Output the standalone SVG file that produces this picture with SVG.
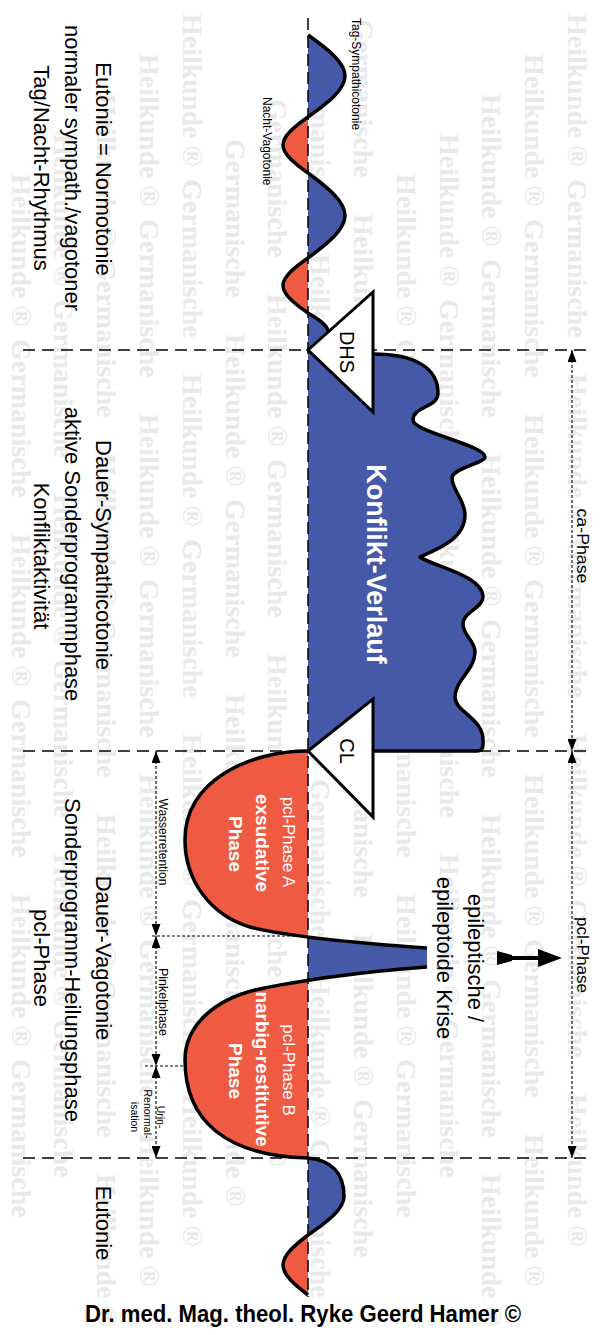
<svg xmlns="http://www.w3.org/2000/svg" width="612" height="1335" viewBox="0 0 612 1335">
<style>
.wm{font-family:"Liberation Serif",serif;font-weight:bold;font-size:28px;fill:#e9e9e9}
.t22{font-family:"Liberation Sans",Arial,sans-serif;font-size:22px;fill:#000;text-anchor:middle}
.t12{font-family:"Liberation Sans",Arial,sans-serif;font-size:12px;fill:#000}
.t11{font-family:"Liberation Sans",Arial,sans-serif;font-size:10.5px;fill:#000;text-anchor:middle}
.t16{font-family:"Liberation Sans",Arial,sans-serif;font-size:16.5px;fill:#000;text-anchor:middle}
.tri{fill:#fff;stroke:#000;stroke-width:3;stroke-linejoin:miter}
.tl{font-family:"Liberation Sans",Arial,sans-serif;font-size:20px;fill:#000;text-anchor:middle}
.wr{font-family:"Liberation Sans",Arial,sans-serif;font-size:17px;fill:#fff;text-anchor:middle}
.wb{font-family:"Liberation Sans",Arial,sans-serif;font-size:19px;font-weight:bold;fill:#fff;text-anchor:middle}
.curve{fill:none;stroke:#000;stroke-width:3.5;stroke-linecap:butt;stroke-linejoin:round}
.red{fill:#ef5a42}
.blue{fill:#4459a7}
.hd{stroke:#000;stroke-width:1.5;stroke-dasharray:12 7;fill:none}
.ax{stroke:#000;stroke-width:1.5;stroke-dasharray:12 6;fill:none}
.dim{stroke:#000;stroke-width:1.1;stroke-dasharray:3 2;fill:none}
</style>
<defs>
<clipPath id="cL"><rect x="0" y="0" width="308" height="1335"/></clipPath>
<clipPath id="cR"><rect x="308" y="0" width="304" height="1335"/></clipPath>
<marker id="ah" viewBox="0 0 12 9" refX="12" refY="4.5" markerWidth="12" markerHeight="9" markerUnits="userSpaceOnUse" orient="auto-start-reverse"><path d="M0,0 L12,4.5 L0,9 Z" fill="#000"/></marker>
<path id="wt" d="M308,35 C327.4,48.7 345,62.3 345,76 C345,89.7 327.4,103.3 308,117 C294.9,126.3 283,135.7 283,145 C283,154.3 294.9,163.7 308,173 C327.4,187.2 345,201.3 345,215.5 C345,229.7 327.4,243.8 308,258 C294.9,267.2 283,276.3 283,285.5 C283,294.7 294.9,303.8 308,313 C318.5,319.2 328,325.3 328,331.5 C328,337.7 318.5,343.8 308,350"/>
<path id="wb" d="M308,1158 C330,1160 344,1172 344,1196.5 C344,1209.3 326.8,1222.2 308,1235 C294.9,1245 283,1255 283,1265 C283,1275 294.9,1285 308,1295"/>
</defs>
<rect width="612" height="1335" fill="#fff"/>
<g id="watermark">
<text class="wm" transform="translate(568,0) rotate(90)"><tspan x="14">Heilkunde ®</tspan><tspan x="179">Germanische</tspan><tspan x="374">Heilkunde ®</tspan><tspan x="539">Germanische</tspan><tspan x="734">Heilkunde ®</tspan><tspan x="899">Germanische</tspan><tspan x="1094">Heilkunde ®</tspan></text>
<text class="wm" transform="translate(525,0) rotate(90)"><tspan x="54">Heilkunde ®</tspan><tspan x="219">Germanische</tspan><tspan x="414">Heilkunde ®</tspan><tspan x="579">Germanische</tspan><tspan x="774">Heilkunde ®</tspan><tspan x="939">Germanische</tspan><tspan x="1134">Heilkunde ®</tspan></text>
<text class="wm" transform="translate(482,0) rotate(90)"><tspan x="94">Heilkunde ®</tspan><tspan x="259">Germanische</tspan><tspan x="454">Heilkunde ®</tspan><tspan x="619">Germanische</tspan><tspan x="814">Heilkunde ®</tspan><tspan x="979">Germanische</tspan><tspan x="1174">Heilkunde ®</tspan></text>
<text class="wm" transform="translate(440,0) rotate(90)"><tspan x="134">Heilkunde ®</tspan><tspan x="299">Germanische</tspan><tspan x="494">Heilkunde ®</tspan><tspan x="659">Germanische</tspan><tspan x="854">Heilkunde ®</tspan><tspan x="1019">Germanische</tspan></text>
<text class="wm" transform="translate(397,0) rotate(90)"><tspan x="174">Heilkunde ®</tspan><tspan x="339">Germanische</tspan><tspan x="534">Heilkunde ®</tspan><tspan x="699">Germanische</tspan><tspan x="894">Heilkunde ®</tspan><tspan x="1059">Germanische</tspan></text>
<text class="wm" transform="translate(354,0) rotate(90)"><tspan x="19">Germanische</tspan><tspan x="214">Heilkunde ®</tspan><tspan x="379">Germanische</tspan><tspan x="574">Heilkunde ®</tspan><tspan x="739">Germanische</tspan><tspan x="934">Heilkunde ®</tspan><tspan x="1099">Germanische</tspan></text>
<text class="wm" transform="translate(311,0) rotate(90)"><tspan x="59">Germanische</tspan><tspan x="254">Heilkunde ®</tspan><tspan x="419">Germanische</tspan><tspan x="614">Heilkunde ®</tspan><tspan x="779">Germanische</tspan><tspan x="974">Heilkunde ®</tspan><tspan x="1139">Germanische</tspan></text>
<text class="wm" transform="translate(268,0) rotate(90)"><tspan x="99">Germanische</tspan><tspan x="294">Heilkunde ®</tspan><tspan x="459">Germanische</tspan><tspan x="654">Heilkunde ®</tspan><tspan x="819">Germanische</tspan><tspan x="1014">Heilkunde ®</tspan></text>
<text class="wm" transform="translate(226,0) rotate(90)"><tspan x="139">Germanische</tspan><tspan x="334">Heilkunde ®</tspan><tspan x="499">Germanische</tspan><tspan x="694">Heilkunde ®</tspan><tspan x="859">Germanische</tspan><tspan x="1054">Heilkunde ®</tspan></text>
<text class="wm" transform="translate(183,0) rotate(90)"><tspan x="14">Heilkunde ®</tspan><tspan x="179">Germanische</tspan><tspan x="374">Heilkunde ®</tspan><tspan x="539">Germanische</tspan><tspan x="734">Heilkunde ®</tspan><tspan x="899">Germanische</tspan><tspan x="1094">Heilkunde ®</tspan></text>
<text class="wm" transform="translate(140,0) rotate(90)"><tspan x="54">Heilkunde ®</tspan><tspan x="219">Germanische</tspan><tspan x="414">Heilkunde ®</tspan><tspan x="579">Germanische</tspan><tspan x="774">Heilkunde ®</tspan><tspan x="939">Germanische</tspan><tspan x="1134">Heilkunde ®</tspan></text>
<text class="wm" transform="translate(97,0) rotate(90)"><tspan x="94">Heilkunde ®</tspan><tspan x="259">Germanische</tspan><tspan x="454">Heilkunde ®</tspan><tspan x="619">Germanische</tspan><tspan x="814">Heilkunde ®</tspan><tspan x="979">Germanische</tspan><tspan x="1174">Heilkunde ®</tspan></text>
<text class="wm" transform="translate(54,0) rotate(90)"><tspan x="134">Heilkunde ®</tspan><tspan x="299">Germanische</tspan><tspan x="494">Heilkunde ®</tspan><tspan x="659">Germanische</tspan><tspan x="854">Heilkunde ®</tspan><tspan x="1019">Germanische</tspan></text>
<text class="wm" transform="translate(12,0) rotate(90)"><tspan x="174">Heilkunde ®</tspan><tspan x="339">Germanische</tspan><tspan x="534">Heilkunde ®</tspan><tspan x="699">Germanische</tspan><tspan x="894">Heilkunde ®</tspan><tspan x="1059">Germanische</tspan></text>
</g>
<g id="phase-lines">
<line class="hd" x1="23" y1="350" x2="590" y2="350"/>
<line class="hd" x1="23" y1="751" x2="590" y2="751"/>
<line class="hd" x1="23" y1="1158" x2="590" y2="1158"/>
<line class="dim" x1="152" y1="936" x2="308" y2="936"/>
<line class="dim" x1="145" y1="1066" x2="208" y2="1066"/>
</g>
<g id="wave-top">
<use href="#wt" class="red" clip-path="url(#cL)"/>
<use href="#wt" class="blue" clip-path="url(#cR)"/>
</g>
<g id="wave-bottom">
<use href="#wb" class="red" clip-path="url(#cL)"/>
<use href="#wb" class="blue" clip-path="url(#cR)"/>
</g>
<g id="konflikt">
<path class="blue" d="M308,352 L373,354 C415,354 438,368 438,393 C438,408 413,406 413,420 C413,432 485,445 485,457 C485,463 452,468 452,478 C452,490 465,500 465,515 C465,538 440,548 420,557 C432,566 483,575 483,597 C483,608 463,612 463,624 C463,636 475,640 475,652 C475,670 455,680 455,697 C455,712 483,718 483,740 L483,745 Q483,751 477,751 L308,751 Z"/>
</g>
<g id="pcl">
<path class="red" clip-path="url(#cL)" d="M308,751 C250,751 185,780 185,840 C185,880 210,915 250,927 C290,937 370,944 427,948 L427,967 C370,971 300,980 255,990 C215,1000 185,1025 185,1060 C185,1120 225,1156 308,1158 Z"/>
<path class="blue" clip-path="url(#cR)" d="M308,751 C250,751 185,780 185,840 C185,880 210,915 250,927 C290,937 370,944 427,948 L427,967 C370,971 300,980 255,990 C215,1000 185,1025 185,1060 C185,1120 225,1156 308,1158 Z"/>
</g>
<line id="axis" class="ax" x1="308" y1="18" x2="308" y2="1297"/>
<g id="curves">
<use href="#wt" class="curve"/>
<use href="#wb" class="curve"/>
<path class="curve" d="M373,354 C415,354 438,368 438,393 C438,408 413,406 413,420 C413,432 485,445 485,457 C485,463 452,468 452,478 C452,490 465,500 465,515 C465,538 440,548 420,557 C432,566 483,575 483,597 C483,608 463,612 463,624 C463,636 475,640 475,652 C475,670 455,680 455,697 C455,712 483,718 483,740 L483,745 Q483,751 477,751 L373,751"/>
<path class="curve" d="M308,751 C250,751 185,780 185,840 C185,880 210,915 250,927 C290,937 370,944 427,948"/>
<path class="curve" d="M427,967 C370,971 300,980 255,990 C215,1000 185,1025 185,1060 C185,1120 225,1156 308,1158"/>
</g>
<g id="dhs">
<polygon class="tri" points="308,350 373,292 373,412"/>
<text class="tl" transform="translate(340,352) rotate(90)">DHS</text>
</g>
<g id="cl">
<polygon class="tri" points="308,751 373,699 373,817"/>
<text class="tl" transform="translate(340,751) rotate(90)">CL</text>
</g>
<g id="labels-inner">
<text class="wb" transform="translate(367,564) rotate(90)" style="font-size:27px">Konflikt-Verlauf</text>
<text class="wr" transform="translate(283,842) rotate(90)">pcl-Phase A</text>
<text class="wb" transform="translate(256,843) rotate(90)">exsudative</text>
<text class="wb" transform="translate(229,844) rotate(90)">Phase</text>
<text class="wr" transform="translate(283,1070) rotate(90)">pcl-Phase B</text>
<text class="wb" transform="translate(256,1069) rotate(90)">narbig-restitutive</text>
<text class="wb" transform="translate(229,1071) rotate(90)">Phase</text>
</g>
<g id="labels-wave">
<text class="t12" transform="translate(352,18) rotate(90)">Tag-Sympathicotonie</text>
<text class="t12" transform="translate(263,97) rotate(90)">Nacht-Vagotonie</text>
</g>
<g id="labels-left">
<text class="t22" transform="translate(96,169) rotate(90)">Eutonie = Normotonie</text>
<text class="t22" transform="translate(65,168) rotate(90)">normaler sympath./vagotoner</text>
<text class="t22" transform="translate(34,168) rotate(90)">Tag/Nacht-Rhythmus</text>
<text class="t22" transform="translate(96,555) rotate(90)">Dauer-Sympathicotonie</text>
<text class="t22" transform="translate(65,554) rotate(90)">aktive Sonderprogrammphase</text>
<text class="t22" transform="translate(34,556) rotate(90)">Konfliktaktivität</text>
<text class="t22" transform="translate(96,958) rotate(90)">Dauer-Vagotonie</text>
<text class="t22" transform="translate(65,960) rotate(90)">Sonderprogramm-Heilungsphase</text>
<text class="t22" transform="translate(34,958) rotate(90)">pcl-Phase</text>
<text class="t22" transform="translate(96,1223) rotate(90)">Eutonie</text>
</g>
<g id="krise">
<text class="t22" transform="translate(468,958) rotate(90)">epileptische /</text>
<text class="t22" transform="translate(437,958) rotate(90)">epileptoide Krise</text>
<polygon points="497,951 512,955 512,961 497,965" fill="#000"/>
<line x1="510" y1="958" x2="542" y2="958" stroke="#000" stroke-width="4"/>
<polygon points="538,949 562,958 538,967" fill="#000"/>
</g>
<g id="connectors">
<line class="dim" x1="156" y1="751" x2="156" y2="936" marker-start="url(#ah)" marker-end="url(#ah)"/>
<line class="dim" x1="156" y1="936" x2="156" y2="1066" marker-start="url(#ah)" marker-end="url(#ah)"/>
<line class="dim" x1="156" y1="1066" x2="156" y2="1158" marker-start="url(#ah)" marker-end="url(#ah)"/>
<line class="dim" x1="572" y1="350" x2="572" y2="751" marker-start="url(#ah)" marker-end="url(#ah)"/>
<line class="dim" x1="572" y1="751" x2="572" y2="1158" marker-start="url(#ah)" marker-end="url(#ah)"/>
</g>
<g id="labels-dim">
<text class="t12" text-anchor="middle" transform="translate(159,842) rotate(90)">Wasserretention</text>
<text class="t12" text-anchor="middle" style="font-size:12.5px" transform="translate(159,1002) rotate(90)">Pinkelphase</text>
<text class="t11" transform="translate(157,1117) rotate(90)">Urin-</text>
<text class="t11" transform="translate(144,1114) rotate(90)">Renormal-</text>
<text class="t11" transform="translate(131,1117) rotate(90)">isation</text>
<text class="t16" transform="translate(577,546) rotate(90)" textLength="75" lengthAdjust="spacingAndGlyphs">ca-Phase</text>
<text class="t16" transform="translate(577,955) rotate(90)" textLength="76" lengthAdjust="spacingAndGlyphs">pcl-Phase</text>
</g>
<g id="footer">
<text x="303" y="1322" text-anchor="middle" textLength="436" lengthAdjust="spacingAndGlyphs" style="font-family:'Liberation Sans',Arial,sans-serif;font-weight:bold;font-size:23px;fill:#000">Dr. med. Mag. theol. Ryke Geerd Hamer ©</text>
</g>
</svg>
